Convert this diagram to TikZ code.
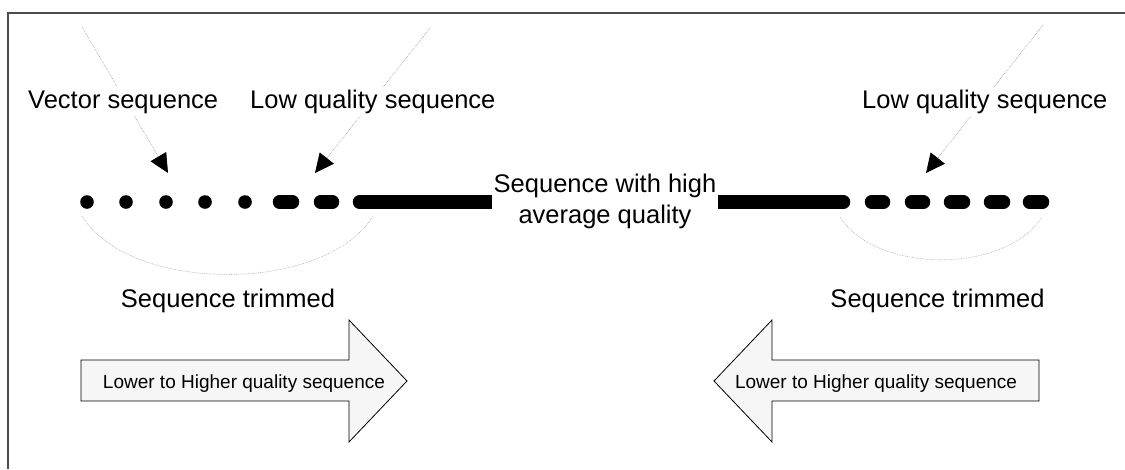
\documentclass[tikz,border=0pt]{standalone}
\usepackage{fontspec}
\setmainfont{Liberation Sans}
\usetikzlibrary{arrows.meta}
\tikzset{
  bigfont/.style={font=\fontsize{25.5}{31}\selectfont},
  smallfont/.style={font=\fontsize{19}{22}\selectfont},
  label/.style={bigfont, inner xsep=4, inner ysep=3, fill=white, anchor=base west},
  pointer/.style={draw=gray!70, line width=0.7, densely dotted, -{Triangle[length=19pt, width=18pt, color=black]}},
  trimarc/.style={draw=gray!60, line width=0.7, densely dotted},
  frameline/.style={draw=gray!60!black, line width=1.4},
  bigarrow/.style={draw=black, line width=0.8, fill=gray!7},
  seg/.style={line width=13.5, line cap=round},
}
\begin{document}
\begin{tikzpicture}[x=1pt, y=-1pt]
\useasboundingbox (0,0) rectangle (1125,469);
% frame (top and left edges only)
\coordinate (fa) at (8,469);
\coordinate (fb) at (8,13);
\coordinate (fc) at (1125,13);
\draw[frameline] (fa) -- (fb) -- (fc);

% pointer start/end coordinates
\coordinate (vs) at (82,27);   \coordinate (vt) at (168,173);
\coordinate (ls) at (430,28);  \coordinate (lt) at (315,173);
\coordinate (rs) at (1043,25); \coordinate (rt) at (926,173);
\draw[pointer] (vs) -- (vt);
\draw[pointer] (ls) -- (lt);
\draw[pointer] (rs) -- (rt);

% labels (white background hides the pointer lines)
\node[label] (vec) at (24,108) {Vector sequence};
\node[label] (lowl) at (246,108) {Low quality sequence};
\node[label] (lowr) at (858,108) {Low quality sequence};

% sequence: dots
\foreach \x in {87,126,166,205,245} \fill (\x,202) circle[radius=6.8];
% left dashes
\draw[seg] (279.5,202) -- (292.5,202);
\draw[seg] (320.5,202) -- (332.5,202);
% left thick bar
\draw[seg] (359.5,202) -- (470,202);
\fill (470,195.25) rectangle (492,208.75);
% right thick bar
\fill (718,195.25) rectangle (760,208.75);
\draw[seg] (760,202) -- (843.5,202);
% right dashes
\foreach \a/\b in {865/890,905/930,944/970,984/1010,1023/1049}
  \draw[seg] (\a+6.5,202) -- (\b-6.5,202);

% central text
\node[bigfont, inner sep=0, anchor=north, align=center] (mid) at (605,173.5) {Sequence with high\\average quality};

% trimming arcs
\coordinate (a1) at (82,216);  \coordinate (a2) at (373,216);
\coordinate (b1) at (840,217); \coordinate (b2) at (1042,217);
\draw[trimarc] (a1) .. controls (130,294) and (325,294) .. (a2);
\draw[trimarc] (b1) .. controls (876,274) and (1006,274) .. (b2);

% Sequence trimmed
\node[bigfont, inner sep=0, anchor=base] (trl) at (228,307) {Sequence trimmed};
\node[bigfont, inner sep=0, anchor=base] (trr) at (937.5,307) {Sequence trimmed};

% big arrows
\draw[bigarrow] (81,360) -- (349,360) -- (349,320) -- (407,381) -- (349,442) -- (349,401) -- (81,401) -- cycle;
\draw[bigarrow] (1039,360) -- (772,360) -- (772,320) -- (714,381) -- (772,442) -- (772,401) -- (1039,401) -- cycle;
\node[smallfont, inner sep=0, anchor=base] (al) at (244,388) {Lower to Higher quality sequence};
\node[smallfont, inner sep=0, anchor=base] (ar) at (876,388) {Lower to Higher quality sequence};
\end{tikzpicture}
\end{document}
